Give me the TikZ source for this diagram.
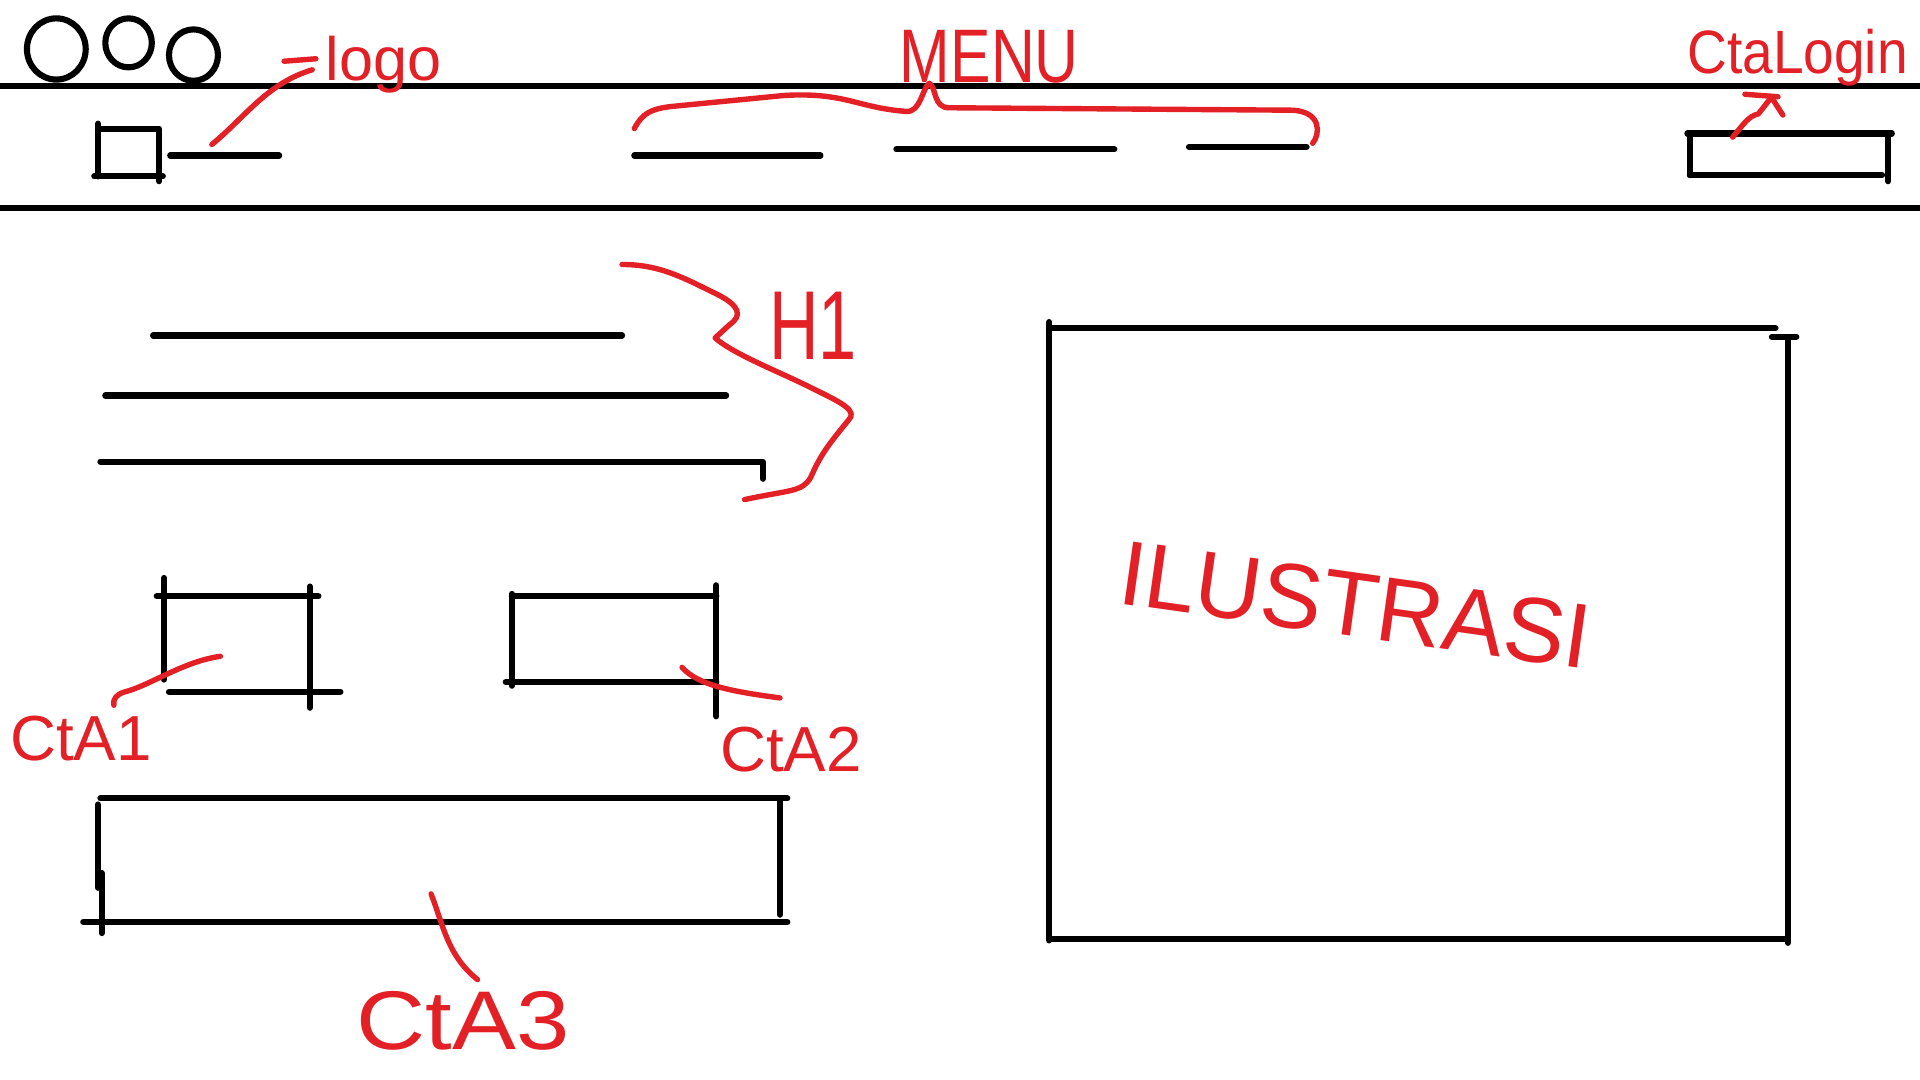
\documentclass[tikz,border=0pt]{standalone}
\usepackage{fontspec}
\setmainfont{Liberation Sans}
\definecolor{pen}{RGB}{226,32,38}
\begin{document}
\begin{tikzpicture}[x=1pt,y=-1pt,
  ink/.style={line width=5pt,line cap=round,line join=round,black},
  redink/.style={line width=4.4pt,line cap=round,line join=round,pen},
  lbl/.style={pen,inner sep=0pt,font=\fontsize{#1}{#1}\selectfont}]
\fill[white] (0,0) rectangle (1568,882);
\path[use as bounding box] (0,0) rectangle (1568,882);

% window buttons
\draw[ink] (46,40) ellipse[x radius=24pt,y radius=25pt];
\draw[ink] (105,35) ellipse[x radius=19pt,y radius=20pt];
\draw[ink] (158,45) ellipse[x radius=20pt,y radius=21pt];

% navbar
\coordinate (navTL) at (0,70);   \coordinate (navTR) at (1568,70);
\coordinate (navBL) at (0,170);  \coordinate (navBR) at (1568,170);
\draw[ink] (navTL) -- (navTR);
\draw[ink] (navBL) -- (navBR);

% logo box + text line
\draw[ink] (80,101) -- (80,144);
\draw[ink] (80,105) -- (130,105) -- (130,148);
\draw[ink] (77,144) -- (133,144);
\draw[ink] (139,127) -- (228,127);
\coordinate (logotip) at (173,118);
\coordinate (logoend) at (255,57);
\node[lbl=50,anchor=base west] (logo) at (266,66) {logo};
\draw[redink] (logotip) .. controls (200,96) and (218,68) .. (logoend);
\draw[redink] (232,50) -- (258,48);

% menu
\draw[ink] (518,127) -- (670,127);
\draw[ink] (732,122) -- (910,122);
\draw[ink] (971,120) -- (1067,120);
\node[lbl=62] (menu) at (808,46) {\scalebox{0.8}[1]{MENU}};
\coordinate (menuL) at (518,105);
\coordinate (menuR) at (1072,117);
\coordinate (menuPeak) at (759,68);
\draw[redink] (menuL) .. controls (525,92) and (532,89) .. (548,87) -- (640,78)
  .. controls (690,75) and (700,88) .. (740,91)
  .. controls (752,92) and (753,72) .. (menuPeak)
  .. controls (765,72) and (762,88) .. (775,88) -- (1055,90)
  .. controls (1080,91) and (1078,110) .. (menuR);

% CTA login
\draw[ink] (1378,109) -- (1545,109);
\draw[ink] (1380,109) -- (1380,143);
\draw[ink] (1380,143) -- (1537,143);
\draw[ink] (1542,109) -- (1542,148);
\node[lbl=50] (ctalogin) at (1468,47) {\scalebox{0.9}[1]{CtaLogin}};
\coordinate (logintip) at (1415,112);
\coordinate (loginend) at (1447,79);
\draw[redink] (logintip) .. controls (1425,100) and (1428,95) .. (1436,93) -- (loginend);
\draw[redink] (1425,77) -- (1452,79);
\draw[redink] (1447,80) -- (1456,94);

% H1 lines
\draw[ink] (125,274) -- (508,274);
\draw[ink] (86,323) -- (593,323);
\draw[ink] (82,377) -- (623,377) -- (623,391);
\node[lbl=80] (h1) at (664,266) {\scalebox{0.7}[1]{H1}};
\coordinate (h1top) at (508,216);
\coordinate (h1bot) at (608,408);
\draw[redink] (h1top) .. controls (540,216) and (560,228) .. (585,240)
  .. controls (605,250) and (606,258) .. (596,265) -- (584,276)
  .. controls (600,290) and (640,305) .. (665,318)
  .. controls (690,330) and (700,336) .. (693,343)
  .. controls (675,365) and (670,372) .. (662,390)
  .. controls (655,402) and (645,400) .. (h1bot);

% illustration box
\draw[ink] (857,268) -- (1450,268);
\draw[ink] (1447,275) -- (1467,275);
\draw[ink] (857,263) -- (857,768);
\draw[ink] (1460,277) -- (1460,770);
\draw[ink] (857,767) -- (1460,767);
\node[lbl=75,rotate=-8] (ilu) at (1107,494) {ILUSTRASI};

% CTA1
\draw[ink] (134,472) -- (134,555);
\draw[ink] (253,479) -- (253,578);
\draw[ink] (128,487) -- (260,487);
\draw[ink] (138,565) -- (278,565);
\node[lbl=52] (cta1) at (66,603) {CtA1};
\coordinate (cta1tip) at (180,536);
\coordinate (cta1end) at (93,576);
\draw[redink] (cta1tip) .. controls (150,540) and (122,560) .. (102,565)
  .. controls (95,567) and (92,571) .. (cta1end);

% CTA2
\draw[ink] (418,485) -- (418,560);
\draw[ink] (585,478) -- (585,585);
\draw[ink] (418,487) -- (585,487);
\draw[ink] (413,557) -- (585,557);
\node[lbl=52] (cta2) at (646,612) {CtA2};
\coordinate (cta2tip) at (557,545);
\coordinate (cta2end) at (637,570);
\draw[redink] (cta2tip) .. controls (570,560) and (600,565) .. (cta2end);

% CTA3
\draw[ink] (82,652) -- (643,652);
\draw[ink] (80,657) -- (80,725);
\draw[ink] (83,713) -- (83,762);
\draw[ink] (637,652) -- (637,747);
\draw[ink] (68,753) -- (643,753);
\node[lbl=68] (cta3) at (378,834) {\scalebox{1.15}[1]{CtA3}};
\coordinate (cta3tip) at (352,730);
\coordinate (cta3end) at (390,800);
\draw[redink] (cta3tip) .. controls (362,755) and (365,780) .. (cta3end);
\end{tikzpicture}
\end{document}
